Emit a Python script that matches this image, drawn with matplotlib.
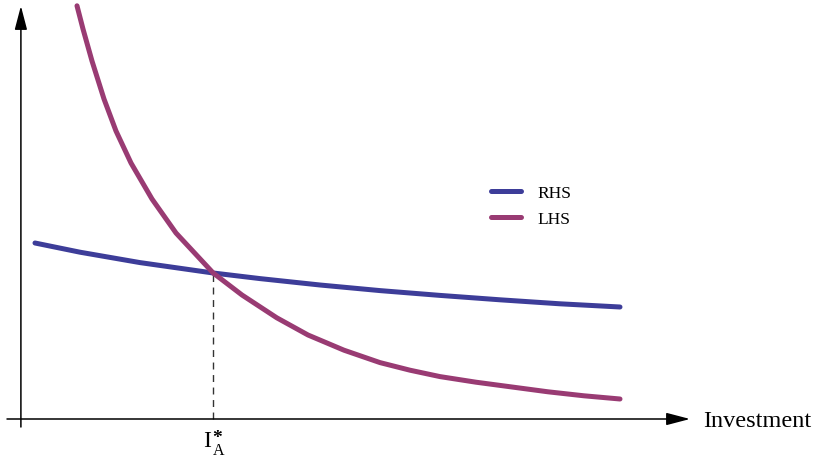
import matplotlib.pyplot as plt

# Investment grid and the two sides of the equilibrium condition
lhs_x = [9.5, 10.5, 12.0, 14.0, 16.0, 18.5, 22.0, 26.0, 32.2, 37.0, 42.8, 48.0, 54.0,
         60.0, 65.0, 70.0, 76.0, 82.0, 88.0, 94.0, 100.0]
lhs_y = [103.3, 97.5, 89.5, 80.0, 72.0, 64.0, 55.0, 46.5, 36.5, 31.0, 25.3, 21.0, 17.2,
         14.1, 12.2, 10.6, 9.2, 8.0, 6.8, 5.8, 5.0]

rhs_x = [2.5, 10.0, 20.0, 32.2, 40.0, 50.0, 60.0, 70.0, 80.0, 90.0, 100.0]
rhs_y = [44.0, 41.7, 39.1, 36.5, 35.1, 33.5, 32.1, 30.9, 29.8, 28.8, 28.0]

# crossing point I*_A
i_star = 32.2
i_star_val = 36.5

plt.rcParams['font.family'] = 'Liberation Serif'

fig = plt.figure(figsize=(8.2, 4.6), dpi=100)
ax = fig.add_axes([0, 0, 1, 1])
ax.set_xlim(-20 / 6, 800 / 6)
ax.set_ylim(-40 / 4, 420 / 4)
ax.axis('off')

blue = '#3d3d99'
purple = '#993b73'

ax.plot(rhs_x, rhs_y, color=blue, lw=3.6, solid_capstyle='round', solid_joinstyle='round', label='RHS', zorder=3)
ax.plot(lhs_x, lhs_y, color=purple, lw=3.6, solid_capstyle='round', solid_joinstyle='round', label='LHS', zorder=3)

# axes with arrow heads
arrow = dict(arrowstyle='-|>,head_length=1.45,head_width=0.38', color='black', lw=1.1,
             mutation_scale=10, shrinkA=0, shrinkB=0)
ax.annotate('', xy=(670 / 6, 0), xytext=(-13 / 6, 0), arrowprops=arrow)
ax.annotate('', xy=(0.15, 413 / 4), xytext=(0.15, -8 / 4), arrowprops=arrow)

# dashed drop line to the x axis
ax.plot([i_star, i_star], [0, i_star_val], color='#333333', lw=1.0, ls=(0, (5, 4)), zorder=2)

# I*_A label built from pieces so the star can be bold
ax.annotate('I', (i_star, 0), xytext=(-7, -8), textcoords='offset points',
            fontsize=17, ha='left', va='top')
ax.annotate('*', (i_star, 0), xytext=(-0.5, -7.5), textcoords='offset points',
            fontsize=14, fontweight='bold', ha='left', va='top')
ax.annotate('A', (i_star, 0), xytext=(-0.5, -16.5), textcoords='offset points',
            fontsize=11.5, ha='left', va='top')

ax.text(113.8, -0.4, 'Investment', fontsize=17.5, ha='left', va='center')

ax.legend(loc='upper left', bbox_to_anchor=(491 / 820, 1 - 186 / 460), frameon=False,
          fontsize=12.5, handlelength=1.75, handletextpad=0.9, labelspacing=0.55,
          borderpad=0, borderaxespad=0)

fig.savefig('out.png', dpi=100)
